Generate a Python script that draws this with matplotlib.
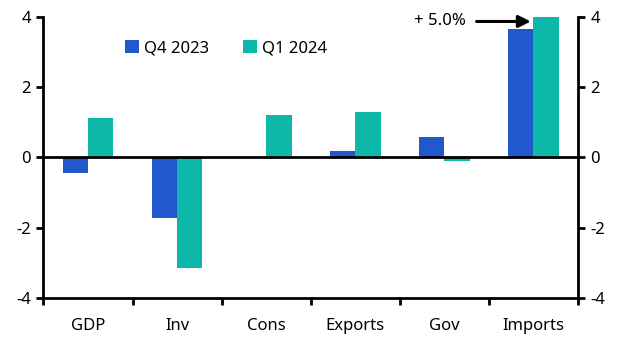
import matplotlib.pyplot as plt
import numpy as np

plt.rcParams['font.family'] = ['Noto Sans', 'DejaVu Sans']
plt.rcParams['axes.unicode_minus'] = False

categories = ['GDP', 'Inv', 'Cons', 'Exports', 'Gov', 'Imports']
q4_2023 = [-0.45, -1.72, 0.0, 0.17, 0.58, 3.66]
q1_2024 = [1.13, -3.14, 1.19, 1.30, -0.11, 5.0]
labels = ['Q4 2023', 'Q1 2024']

blue = '#2159cc'
teal = '#0cb8aa'

fig = plt.figure(figsize=(6.29, 3.52), dpi=100)
ax = fig.add_axes([0.069, 0.153, 0.850, 0.800])

x = np.arange(len(categories))
w = 0.285
ax.bar(x - w / 2, q4_2023, w, color=blue, label=labels[0])
ax.bar(x + w / 2, q1_2024, w, color=teal, label=labels[1])

ax.set_xlim(-0.5, len(categories) - 0.5)
ax.set_ylim(-4, 4)
ax.axhline(0, color='black', lw=2)

ax.set_xticks(x)
ax.set_xticklabels(categories)
ax.set_xticks(np.arange(-0.5, len(categories), 1), minor=True)
ax.tick_params(axis='x', which='major', length=0, pad=14, labelsize=12)
ax.tick_params(axis='x', which='minor', length=5, width=2, direction='out')

ax.set_yticks([-4, -2, 0, 2, 4])
ax.tick_params(axis='y', left=True, right=True, labelleft=True, labelright=True,
               length=5, width=2, direction='out', labelsize=12, pad=4)

for s in ['left', 'right', 'bottom']:
    ax.spines[s].set_linewidth(2)
ax.spines['top'].set_visible(False)

ax.legend(loc='upper left', bbox_to_anchor=(0.125, 0.97), ncol=2, frameon=False,
          fontsize=12, handlelength=0.85, handleheight=0.85, handletextpad=0.3,
          columnspacing=2.0)

ax.annotate('', xy=(5.0, 3.86), xytext=(4.33, 3.86),
            arrowprops=dict(arrowstyle='-|>', color='black', lw=2.2, mutation_scale=18))
ax.text(4.24, 3.86, '+ 5.0%', ha='right', va='center', fontsize=12)

fig.savefig('out.png', dpi=100)
